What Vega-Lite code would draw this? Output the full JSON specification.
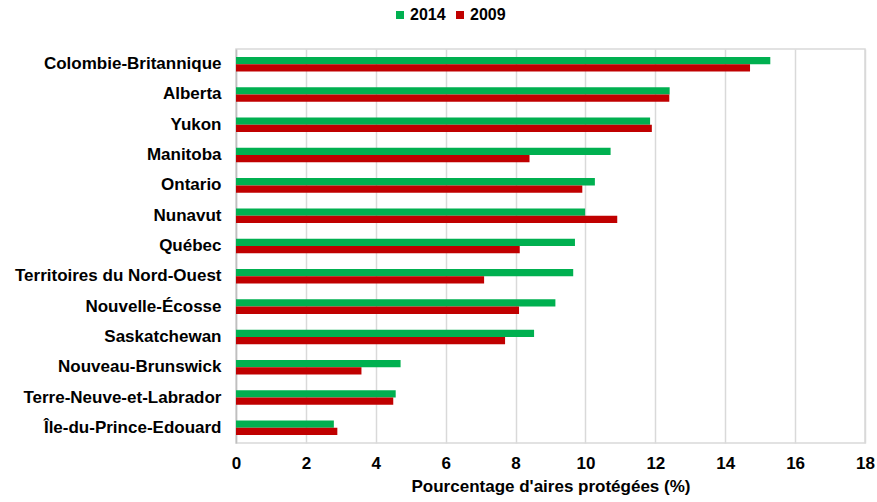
{
  "$schema": "https://vega.github.io/schema/vega-lite/v6.json",
  "width": 629,
  "height": 394,
  "autosize": {"type": "none"},
  "padding": {"left": 236, "top": 49, "right": 12, "bottom": 59},
  "background": "white",
  "config": {
    "font": "Liberation Sans",
    "view": {"stroke": "#d9d9d9", "strokeWidth": 1.5},
    "axis": {"labelFont": "Liberation Sans", "titleFont": "Liberation Sans"}
  },
  "data": {
    "values": [
      {"region": "Colombie-Britannique", "year": "2014", "value": 15.29},
      {"region": "Colombie-Britannique", "year": "2009", "value": 14.71},
      {"region": "Alberta", "year": "2014", "value": 12.41},
      {"region": "Alberta", "year": "2009", "value": 12.40},
      {"region": "Yukon", "year": "2014", "value": 11.85},
      {"region": "Yukon", "year": "2009", "value": 11.90},
      {"region": "Manitoba", "year": "2014", "value": 10.72},
      {"region": "Manitoba", "year": "2009", "value": 8.40},
      {"region": "Ontario", "year": "2014", "value": 10.27},
      {"region": "Ontario", "year": "2009", "value": 9.91},
      {"region": "Nunavut", "year": "2014", "value": 9.99},
      {"region": "Nunavut", "year": "2009", "value": 10.91},
      {"region": "Québec", "year": "2014", "value": 9.70},
      {"region": "Québec", "year": "2009", "value": 8.12},
      {"region": "Territoires du Nord-Ouest", "year": "2014", "value": 9.65},
      {"region": "Territoires du Nord-Ouest", "year": "2009", "value": 7.10},
      {"region": "Nouvelle-Écosse", "year": "2014", "value": 9.14},
      {"region": "Nouvelle-Écosse", "year": "2009", "value": 8.10},
      {"region": "Saskatchewan", "year": "2014", "value": 8.53},
      {"region": "Saskatchewan", "year": "2009", "value": 7.70},
      {"region": "Nouveau-Brunswick", "year": "2014", "value": 4.71},
      {"region": "Nouveau-Brunswick", "year": "2009", "value": 3.59},
      {"region": "Terre-Neuve-et-Labrador", "year": "2014", "value": 4.57},
      {"region": "Terre-Neuve-et-Labrador", "year": "2009", "value": 4.50},
      {"region": "Île-du-Prince-Edouard", "year": "2014", "value": 2.80},
      {"region": "Île-du-Prince-Edouard", "year": "2009", "value": 2.90}
    ]
  },
  "mark": {"type": "bar"},
  "encoding": {
    "y": {
      "field": "region",
      "type": "nominal",
      "sort": null,
      "scale": {"paddingInner": 0.52, "paddingOuter": 0.26},
      "axis": {
        "title": null,
        "ticks": false,
        "tickSize": 0,
        "labelPadding": 15,
        "labelFontSize": 17,
        "labelFontWeight": "bold",
        "labelColor": "#000000",
        "domain": true,
        "domainColor": "#bfbfbf",
        "domainWidth": 1.5,
        "grid": false,
        "labelLimit": 400
      }
    },
    "yOffset": {
      "field": "year",
      "type": "nominal",
      "scale": {"domain": ["2014", "2009"]}
    },
    "x": {
      "field": "value",
      "type": "quantitative",
      "scale": {"domain": [0, 18], "nice": false},
      "axis": {
        "title": "Pourcentage d'aires protégées (%)",
        "values": [0, 2, 4, 6, 8, 10, 12, 14, 16, 18],
        "ticks": false,
        "tickSize": 0,
        "domain": false,
        "grid": true,
        "gridColor": "#d9d9d9",
        "gridWidth": 1.5,
        "labelFlush": false,
        "labelPadding": 12,
        "labelFontSize": 17,
        "labelFontWeight": "bold",
        "labelColor": "#000000",
        "titleFontSize": 17,
        "titleFontWeight": "bold",
        "titleColor": "#000000",
        "titlePadding": 7
      }
    },
    "color": {
      "field": "year",
      "type": "nominal",
      "scale": {"domain": ["2014", "2009"], "range": ["#00B050", "#C00000"]},
      "legend": {
        "title": null,
        "orient": "none",
        "direction": "horizontal",
        "legendX": 156,
        "legendY": -42,
        "symbolType": "square",
        "symbolSize": 64,
        "symbolStrokeWidth": 0,
        "labelFontSize": 16,
        "labelFontWeight": "bold",
        "labelColor": "#000000",
        "labelOffset": 2,
        "columnPadding": 6
      }
    }
  }
}
